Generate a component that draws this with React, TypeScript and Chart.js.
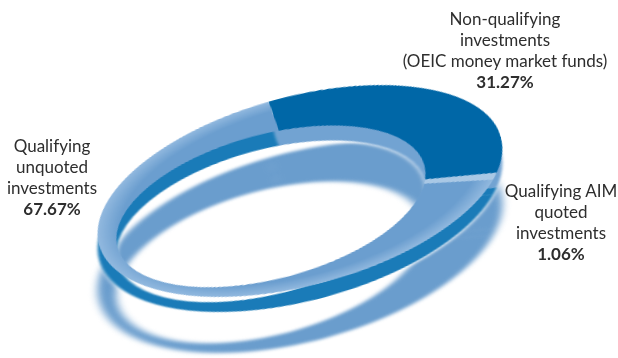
import React, { useEffect, useRef } from "react";
import { Chart, ArcElement, PieController } from "chart.js";

Chart.register(ArcElement, PieController);

// ---- data ----
const categories = [
  "Non-qualifying investments (OEIC money market funds)",
  "Qualifying AIM quoted investments",
  "Qualifying unquoted investments",
];
const shares = [31.27, 1.06, 67.67];
const labelLines = [
  ["Non-qualifying", "investments", "(OEIC money market funds)"],
  ["Qualifying AIM", "quoted", "investments"],
  ["Qualifying", "unquoted", "investments"],
];

// ---- styling ----
const faceColors = ["#0067a7", "#a9c8e5", "#6b9ecf"];
const faceOuterColors = ["#0067a7", "#a9c8e5", "#92b9df"];
const wallColors = ["#72a3d2", "#1a7bb8", "#1a7bb8"];
const shadowColors = ["#6a9dcd", "#6a9dcd", "#6a9dcd"];

const SIZE = 416;
const CX = 300;
const CY = 191;
const TILT = -15;
const SQUASH = 0.454;
const START_ANGLE = -2;
const HOLE_DX = -0.154;
const HOLE_DY = 0.077;
const HOLE_R = 0.764;

const labelPos = [
  { cx: 505, top: 8 },
  { cx: 561, top: 180 },
  { cx: 52, top: 135 },
];

const holePlugin = {
  id: "hole",
  afterDatasetsDraw(chart: any) {
    const arc = chart.getDatasetMeta(0).data[0] as any;
    if (!arc) return;
    const R = arc.outerRadius;
    const ctx = chart.ctx as CanvasRenderingContext2D;
    ctx.save();
    ctx.globalCompositeOperation = "destination-out";
    ctx.beginPath();
    ctx.arc(arc.x + HOLE_DX * R, arc.y + HOLE_DY * R, HOLE_R * R, 0, Math.PI * 2);
    ctx.fill();
    ctx.restore();
  },
};

function Ring({
  colors,
  outer,
  offsetY,
  filter,
}: {
  colors: string[];
  outer?: string[];
  offsetY: number;
  filter?: string;
}) {
  const ref = useRef<HTMLCanvasElement>(null);
  useEffect(() => {
    const bg = (c: any) => {
      const i = c.dataIndex;
      const area = c.chart.chartArea;
      if (!outer || !area || outer[i] === colors[i]) return colors[i];
      const cx = (area.left + area.right) / 2;
      const cy = (area.top + area.bottom) / 2;
      const R = Math.min(area.right - area.left, area.bottom - area.top) / 2;
      const g = c.chart.ctx.createRadialGradient(cx, cy, R * 0.8, cx, cy, R);
      g.addColorStop(0, colors[i]);
      g.addColorStop(0.45, colors[i]);
      g.addColorStop(1, outer[i]);
      return g;
    };
    const chart = new Chart(ref.current!, {
      type: "pie",
      data: {
        labels: categories,
        datasets: [{ data: shares, backgroundColor: bg, borderWidth: 0, hoverOffset: 0 }],
      },
      options: {
        responsive: false,
        animation: false,
        rotation: START_ANGLE,
        layout: { padding: 0 },
        events: [],
        plugins: { legend: { display: false }, tooltip: { enabled: false } },
      } as any,
      plugins: [holePlugin],
    });
    return () => chart.destroy();
  }, []);
  return (
    <canvas
      ref={ref}
      width={SIZE}
      height={SIZE}
      style={{
        position: "absolute",
        left: CX - SIZE / 2,
        top: CY - SIZE / 2 + offsetY,
        width: SIZE,
        height: SIZE,
        transform: `rotate(${TILT}deg) scaleY(${SQUASH})`,
        transformOrigin: "50% 50%",
        filter,
      }}
    />
  );
}

function Label({ i }: { i: number }) {
  const p = labelPos[i];
  const w = 230;
  return (
    <div
      style={{
        position: "absolute",
        left: p.cx - w / 2,
        top: p.top,
        width: w,
        textAlign: "center",
        fontFamily: "Lato, 'Open Sans', sans-serif",
        fontSize: 17,
        lineHeight: "21px",
        color: "#2e2e2e",
        whiteSpace: "nowrap",
      }}
    >
      {labelLines[i].map((l, k) => (
        <div key={k}>{l}</div>
      ))}
      <div style={{ fontWeight: 700 }}>{shares[i].toFixed(2)}%</div>
    </div>
  );
}

export default function App() {
  return (
    <div
      style={{
        position: "fixed",
        left: 0,
        top: 0,
        width: 618,
        height: 358,
        background: "#fff",
        overflow: "hidden",
      }}
    >
      <Ring colors={shadowColors} offsetY={56} filter="blur(4px)" />
      <Ring colors={wallColors} offsetY={15} filter="blur(1.5px) drop-shadow(0 3px 2px rgba(255,255,255,0.9))" />
      <Ring colors={faceColors} outer={faceOuterColors} offsetY={0} />
      <Label i={0} />
      <Label i={1} />
      <Label i={2} />
    </div>
  );
}
